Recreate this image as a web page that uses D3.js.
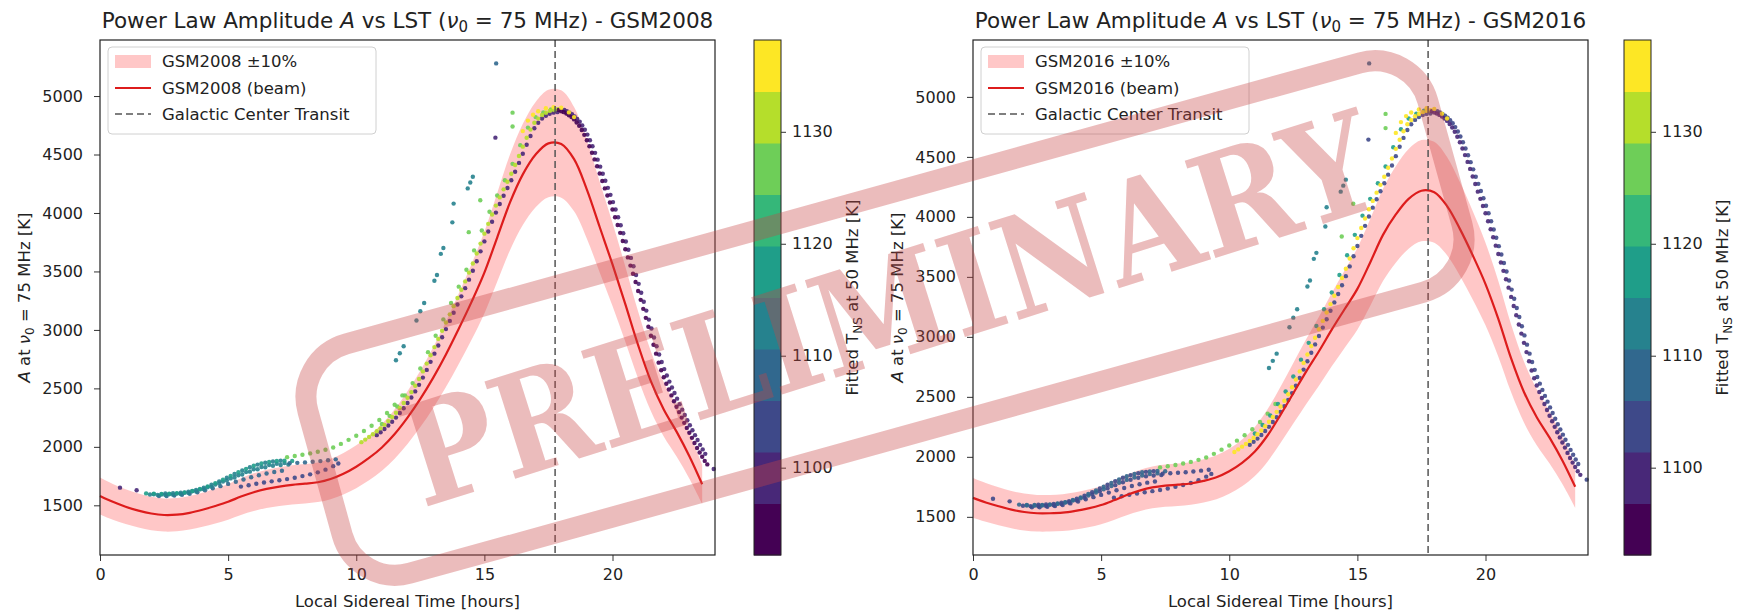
<!DOCTYPE html>
<meta charset="utf-8">
<html>
<head>
<title>Power Law Amplitude vs LST</title>
<style>
  body { margin: 0; background: #fff; }
  text { font-family: "DejaVu Sans", sans-serif; fill: #222; }
  .tick text { font-size: 16px; }
  .tick line { stroke: #333; }
</style>
<script src="https://d3js.org/d3.v7.min.js"></script>
</head>
<body>
<script>

// ---- data ----
var lstModel = [0,0.5,1,1.5,2,2.5,3,3.5,4,4.5,5,5.5,6,6.5,7,7.5,8,8.5,9,9.5,10,10.5,11,11.5,
                12,12.5,13,13.5,14,14.5,15,15.5,16,16.5,17,17.5,18,18.5,19,19.5,20,20.5,21,21.5,22,22.5,23,23.5];
var gsm2008 = [1580,1530,1488,1455,1430,1417,1420,1436,1462,1494,1530,1575,1612,1640,1660,1675,1685,1697,1725,1770,
               1830,1905,1995,2110,2250,2410,2590,2790,3010,3240,3490,3790,4090,4330,4500,4595,4590,4460,4200,3880,
               3560,3220,2870,2560,2320,2130,1920,1680];
var gsm2016 = [1658,1620,1588,1560,1540,1530,1530,1535,1550,1570,1598,1638,1682,1718,1745,1760,1768,1778,1800,1830,
               1880,1950,2045,2180,2350,2530,2710,2880,3060,3230,3400,3620,3850,4020,4150,4218,4205,4090,3900,3680,
               3440,3150,2820,2540,2330,2160,1970,1750];
var gcTransit = 17.76;

var xTicks = [0, 5, 10, 15, 20];
var yTicks = [1500, 2000, 2500, 3000, 3500, 4000, 4500, 5000];
var cbarTicks = [1100, 1110, 1120, 1130];
var tnsRange = [1092.2, 1138.2];
var xRange = [0, 24];

// fitted amplitude points [LST, A]; colour is the fitted T_NS of each group
var lowTop = [[1.8,1602],[2.1,1600],[2.4,1598],[2.7,1600],[3.0,1604],[3.3,1611],[3.6,1622],[3.9,1640],[4.2,1662],
  [4.5,1690],[4.8,1720],[5.1,1752],[5.4,1783],[5.7,1812],[6.0,1838],[6.3,1857],[6.6,1871],[6.9,1879],[7.2,1882],[7.5,1880]];
var lowTop2 = [[2.55,1601],[2.85,1603],[3.15,1608],[3.45,1617],[3.75,1631],[4.05,1651],[4.35,1676],[4.65,1705],
  [4.95,1736],[5.25,1768],[5.55,1798],[5.85,1826],[6.15,1848],[6.45,1864],[6.75,1875],[7.05,1881]];
var lowMid = [[1.95,1592],[2.25,1589],[2.55,1588],[2.85,1591],[3.15,1597],[3.45,1606],[3.75,1619],[4.05,1637],[4.35,1660],
  [4.65,1686],[4.95,1712],[5.25,1738],[5.55,1764],[5.85,1788],[6.15,1809],[6.45,1826],[6.75,1838],[7.05,1845],[7.35,1848]];
var lowMid2 = [[2.1,1595],[2.4,1593],[2.7,1595],[3.0,1600],[3.3,1608],[3.6,1620],[3.9,1636],[4.2,1655],[4.5,1678],
  [4.8,1703],[5.1,1730],[5.4,1757],[5.7,1784],[6.0,1808],[6.3,1828],[6.6,1845],[6.9,1856],[7.2,1862]];
var lowBot = [[2.3,1580],[2.6,1580],[2.9,1584],[3.2,1590],[3.5,1599],[3.8,1612],[4.1,1628],[4.4,1646],[4.7,1664],
  [5.0,1683],[5.3,1702],[5.6,1721],[5.9,1740],[6.2,1757],[6.5,1772],[6.8,1785],[7.1,1795]];
var lowGray = [[5.5,1660],[5.8,1672],[6.1,1684],[6.4,1695],[6.7,1705],[7.0,1714],[7.3,1724],[7.6,1736],[7.9,1750],
  [8.2,1765],[8.5,1782],[8.8,1805],[9.1,1835],[9.3,1858]];
var midDark = [[7.4,1860],[7.7,1863],[8.0,1867],[8.3,1872],[8.6,1878],[8.9,1885],[9.2,1893]];
var greenRise = [[7.3,1912],[7.6,1922],[7.9,1932],[8.2,1944],[8.5,1958],[8.8,1975],[9.1,1995],[9.4,2025],[9.7,2060],
  [10.0,2095],[10.3,2135],[10.6,2180],[10.9,2230],[11.2,2290],[11.5,2360],[11.8,2440]];
var riseA = [[10.2,2040],[10.35,2062],[10.5,2085],[10.65,2108],[10.8,2133],[10.95,2158],[11.1,2188],[11.25,2220],
  [11.4,2255],[11.55,2292],[11.7,2332],[11.85,2375],[12.0,2420],[12.15,2468],[12.3,2522],[12.45,2580],[12.6,2645],
  [12.75,2712],[12.9,2783],[13.05,2853],[13.2,2923],[13.35,2993],[13.5,3063],[13.65,3133],[13.8,3203],[13.95,3273],
  [14.1,3343],[14.25,3415],[14.4,3490],[14.55,3568],[14.7,3653],[14.85,3738],[15.0,3823],[15.15,3907],[15.3,3987],
  [15.45,4063],[15.6,4133],[15.75,4202],[15.9,4267],[16.05,4335],[16.2,4410],[16.35,4487],[16.5,4567],[16.65,4643],
  [16.8,4713],[16.95,4772],[17.1,4807],[17.25,4838],[17.4,4857],[17.55,4873],[17.7,4883],[17.85,4888]];
var riseB = [[10.8,2100],[10.95,2125],[11.1,2152],[11.25,2182],[11.4,2215],[11.55,2250],[11.7,2290],[11.85,2330],
  [12.0,2375],[12.15,2422],[12.3,2474],[12.45,2530],[12.6,2592],[12.75,2658],[12.9,2727],[13.05,2797],[13.2,2867],
  [13.35,2937],[13.5,3007],[13.65,3077],[13.8,3147],[13.95,3217],[14.1,3287],[14.25,3357],[14.4,3430],[14.55,3506],
  [14.7,3587],[14.85,3672],[15.0,3757],[15.15,3842],[15.3,3925],[15.45,4003],[15.6,4077],[15.75,4147],[15.9,4214],
  [16.05,4280],[16.2,4352],[16.35,4428],[16.5,4506],[16.65,4584],[16.8,4658],[16.95,4724],[17.1,4772],[17.25,4808],
  [17.4,4832],[17.55,4848],[17.7,4858],[17.85,4862]];
var riseC = [[11.0,2195],[11.3,2265],[11.6,2345],[11.9,2440],[12.2,2545],[12.5,2670],[12.8,2810],[13.1,2950],
  [13.4,3090],[13.7,3230],[14.0,3370],[14.3,3515],[14.6,3680],[14.9,3850],[15.2,4010],[15.5,4150],[15.8,4280],
  [16.1,4420],[16.4,4580],[16.7,4730],[17.0,4820],[17.3,4860],[17.6,4885]];
var peakTop = [[16.5,4700],[16.7,4790],[16.9,4840],[17.1,4870],[17.4,4895],[17.7,4905],[18.0,4900],[18.3,4860],[18.5,4820]];
var fallA = [[17.9,4880],[18.0,4870],[18.1,4862],[18.2,4850],[18.3,4836],[18.4,4820],[18.5,4800],[18.6,4774],
  [18.7,4745],[18.8,4710],[18.9,4668],[19.0,4622],[19.1,4570],[19.2,4515],[19.3,4458],[19.4,4400],[19.5,4337],
  [19.6,4274],[19.7,4210],[19.8,4150],[19.9,4090],[20.0,4030],[20.1,3963],[20.2,3897],[20.3,3830],[20.4,3760],
  [20.5,3690],[20.6,3620],[20.7,3550],[20.8,3480],[20.9,3410],[21.0,3333],[21.1,3257],[21.2,3180],[21.3,3103],
  [21.4,3027],[21.5,2950],[21.6,2873],[21.7,2797],[21.8,2720],[21.9,2655],[22.0,2595],[22.1,2540],[22.2,2490],
  [22.3,2440],[22.4,2390],[22.5,2343],[22.6,2297],[22.7,2250],[22.8,2205],[22.9,2162],[23.0,2120],[23.1,2077],
  [23.2,2033],[23.3,1990],[23.4,1952],[23.5,1915],[23.6,1880],[23.7,1850]];
var fallB = [[18.12,4880],[18.22,4870],[18.32,4858],[18.42,4844],[18.52,4826],[18.62,4805],[18.72,4780],[18.82,4748],
  [18.92,4712],[19.02,4670],[19.12,4622],[19.22,4570],[19.32,4514],[19.42,4456],[19.52,4396],[19.62,4335],[19.72,4275],
  [19.82,4215],[19.92,4155],[20.02,4093],[20.12,4030],[20.22,3963],[20.32,3895],[20.42,3826],[20.52,3756],[20.62,3686],
  [20.72,3616],[20.82,3545],[20.92,3470],[21.02,3394],[21.12,3318],[21.22,3241],[21.32,3165],[21.42,3088],[21.52,3012],
  [21.62,2935],[21.72,2860],[21.82,2790],[21.92,2725],[22.02,2665],[22.12,2610],[22.22,2558],[22.32,2508],[22.42,2460],
  [22.52,2412],[22.62,2365],[22.72,2318],[22.82,2272],[22.92,2228],[23.02,2185],[23.12,2142],[23.22,2100],[23.32,2058],
  [23.42,2017],[23.52,1978],[23.62,1940]];
var tealStray = [[11.55,2740],[11.7,2800],[11.85,2860],[12.35,3080],[12.5,3160],[12.65,3230],[13.05,3420],[13.15,3470],
  [13.3,3650],[13.4,3700],[13.75,3920],[13.8,4080],[14.35,4210],[14.45,4260],[14.55,4310]];
var greenStray = [[16.1,4858],[16.1,4740],[14.84,4109],[14.39,3836]];
var darkStray = [[0.78,1651],[1.43,1629],[15.43,4644],[23.95,1810]];
var highStray = [[15.46,5279]];

var groups = [
  {pts: lowBot,     tL: 1110, tR: 1102},
  {pts: lowMid,     tL: 1113, tR: 1105},
  {pts: lowMid2,    tL: 1115, tR: 1106},
  {pts: lowTop,     tL: 1117, tR: 1108},
  {pts: lowTop2,    tL: 1112, tR: 1104},
  {pts: lowGray,    tL: 1105, tR: 1103},
  {pts: midDark,    tL: 1107, tR: 1105},
  {pts: greenRise,  tL: 1127, tR: 1127},
  {pts: riseC,      tL: 1126, tR: 1117},
  {pts: riseB,      tL: 1099, tR: 1104},
  {pts: riseA,      tL: 1131, tR: 1136},
  {pts: tealStray,  tL: 1112, tR: 1112},
  {pts: greenStray, tL: 1126, tR: 1126},
  {pts: darkStray,  tL: 1100, tR: 1103},
  {pts: highStray,  tL: 1108, tR: 1108},
  {pts: fallB,      tL: 1099, tR: 1104},
  {pts: fallA,      tL: 1096, tR: 1101},
  {pts: peakTop,    tL: 1137, tR: 1137}
];

// ---- layout ----
var width = 1740, height = 613;
var plotTop = 40, plotBottom = 555;

var panels = [
  {name: "GSM2008", model: gsm2008, left: 100, right: 715, cb: 754, tKey: "tL"},
  {name: "GSM2016", model: gsm2016, left: 973, right: 1588, cb: 1624, tKey: "tR"}
];

var colorScale = d3.scaleQuantize().domain(tnsRange).range(d3.quantize(d3.interpolateViridis, 10));

var svg = d3.select("body").append("svg")
    .attr("width", width)
    .attr("height", height);

// y limits like matplotlib autoscale: data (band + points) with 5% margin
var allA = [];
groups.forEach(function(g) { g.pts.forEach(function(p) { allA.push(p[1]); }); });

var drawPanel = function(p) {
  var lo = d3.min(allA.concat(p.model.map(function(v) { return v * 0.9; })));
  var hi = d3.max(allA.concat(p.model.map(function(v) { return v * 1.1; })));
  var pad = (hi - lo) * 0.05;

  var x = d3.scaleLinear().domain(xRange).range([p.left, p.right]);
  var y = d3.scaleLinear().domain([lo - pad, hi + pad]).range([plotBottom, plotTop]);

  var g = svg.append("g");

  // +-10% band
  var band = d3.area()
      .x(function(d, i) { return x(lstModel[i]); })
      .y0(function(d) { return y(d * 0.9); })
      .y1(function(d) { return y(d * 1.1); })
      .curve(d3.curveCatmullRom);
  g.append("path").datum(p.model)
      .attr("d", band)
      .attr("fill", "#ff0000")
      .attr("fill-opacity", 0.22);

  // fitted points
  groups.forEach(function(grp) {
    g.append("g").selectAll("circle")
      .data(grp.pts)
      .enter().append("circle")
      .attr("cx", function(d) { return x(d[0]); })
      .attr("cy", function(d) { return y(d[1]); })
      .attr("r", 2.2)
      .attr("fill", colorScale(grp[p.tKey]))
      .attr("fill-opacity", 0.9);
  });

  // beam model line
  var line = d3.line()
      .x(function(d, i) { return x(lstModel[i]); })
      .y(function(d) { return y(d); })
      .curve(d3.curveCatmullRom);
  g.append("path").datum(p.model)
      .attr("d", line)
      .attr("fill", "none")
      .attr("stroke", "#dd1c1c")
      .attr("stroke-width", 2.2);

  // galactic centre transit
  g.append("line")
      .attr("x1", x(gcTransit)).attr("x2", x(gcTransit))
      .attr("y1", plotTop).attr("y2", plotBottom)
      .attr("stroke", "#555").attr("stroke-width", 1.5)
      .attr("stroke-dasharray", "7,4");

  // axes
  var ax = g.append("g").attr("transform", "translate(0," + plotBottom + ")")
      .call(d3.axisBottom(x).tickValues(xTicks).tickSize(6).tickPadding(8).tickSizeOuter(0));
  ax.select(".domain").remove();
  var ay = g.append("g").attr("transform", "translate(" + p.left + ",0)")
      .call(d3.axisLeft(y).tickValues(yTicks).tickSize(6).tickPadding(11).tickSizeOuter(0)
             .tickFormat(d3.format("d")));
  ay.select(".domain").remove();

  g.append("rect")
      .attr("x", p.left).attr("y", plotTop)
      .attr("width", p.right - p.left).attr("height", plotBottom - plotTop)
      .attr("fill", "none").attr("stroke", "#222").attr("stroke-width", 1.2);

  var cx = (p.left + p.right) / 2;

  // title
  var t = g.append("text").attr("x", cx).attr("y", 28)
      .attr("text-anchor", "middle").style("font-size", "21.5px");
  t.append("tspan").text("Power Law Amplitude ");
  t.append("tspan").attr("font-style", "italic").text("A");
  t.append("tspan").text(" vs LST (");
  t.append("tspan").attr("font-style", "italic").text("ν");
  t.append("tspan").attr("font-size", "15px").attr("dy", 4).text("0");
  t.append("tspan").attr("dy", -4).text(" = 75 MHz) - " + p.name);

  // x label
  g.append("text").attr("x", cx).attr("y", 607)
      .attr("text-anchor", "middle").style("font-size", "16.5px")
      .text("Local Sidereal Time [hours]");

  // y label
  var yl = g.append("text")
      .attr("transform", "translate(" + (p.left - 70) + "," + ((plotTop + plotBottom) / 2) + ") rotate(-90)")
      .attr("text-anchor", "middle").style("font-size", "16.5px");
  yl.append("tspan").attr("font-style", "italic").text("A");
  yl.append("tspan").text(" at ");
  yl.append("tspan").attr("font-style", "italic").text("ν");
  yl.append("tspan").attr("font-size", "12px").attr("dy", 4).text("0");
  yl.append("tspan").attr("dy", -4).text(" = 75 MHz [K]");

  // legend
  var lg = g.append("g").attr("transform", "translate(" + (p.left + 8) + ",47)");
  lg.append("rect").attr("width", 268).attr("height", 87).attr("rx", 4)
      .attr("fill", "#fff").attr("fill-opacity", 0.8)
      .attr("stroke", "#d0d0d0");
  lg.append("rect").attr("x", 7).attr("y", 8).attr("width", 36).attr("height", 13)
      .attr("fill", "#ff0000").attr("fill-opacity", 0.22);
  lg.append("line").attr("x1", 7).attr("x2", 43).attr("y1", 41).attr("y2", 41)
      .attr("stroke", "#dd1c1c").attr("stroke-width", 2.2);
  lg.append("line").attr("x1", 7).attr("x2", 43).attr("y1", 67).attr("y2", 67)
      .attr("stroke", "#555").attr("stroke-width", 1.5).attr("stroke-dasharray", "7,4");
  var labels = [p.name + " ±10%", p.name + " (beam)", "Galactic Center Transit"];
  lg.selectAll("text.lab").data(labels).enter().append("text")
      .attr("class", "lab")
      .attr("x", 54).attr("y", function(d, i) { return 20 + i * 26.5; })
      .style("font-size", "16.5px")
      .text(function(d) { return d; });

  // colour bar
  var cbScale = d3.scaleLinear().domain(tnsRange).range([plotBottom, plotTop]);
  var edges = [tnsRange[0]].concat(colorScale.thresholds(), [tnsRange[1]]);
  var cg = g.append("g");
  cg.selectAll("rect.bin").data(d3.range(10)).enter().append("rect")
      .attr("class", "bin")
      .attr("x", p.cb).attr("width", 27)
      .attr("y", function(i) { return cbScale(edges[i + 1]); })
      .attr("height", function(i) { return cbScale(edges[i]) - cbScale(edges[i + 1]) + 0.5; })
      .attr("fill", function(i) { return colorScale.range()[i]; });
  cg.append("rect").attr("x", p.cb).attr("y", plotTop).attr("width", 27).attr("height", plotBottom - plotTop)
      .attr("fill", "none").attr("stroke", "#222").attr("stroke-width", 1);
  var ac = cg.append("g").attr("transform", "translate(" + (p.cb + 27) + ",0)")
      .call(d3.axisRight(cbScale).tickValues(cbarTicks).tickSize(5).tickPadding(6).tickSizeOuter(0)
             .tickFormat(d3.format("d")));
  ac.select(".domain").remove();
  var cl = cg.append("text")
      .attr("transform", "translate(" + (p.cb + 104) + "," + ((plotTop + plotBottom) / 2) + ") rotate(-90)")
      .attr("text-anchor", "middle").style("font-size", "16.5px");
  cl.append("tspan").text("Fitted T");
  cl.append("tspan").attr("font-size", "12px").attr("dy", 4).text("NS");
  cl.append("tspan").attr("dy", -4).text(" at 50 MHz [K]");
};

panels.forEach(drawPanel);

// PRELIMINARY stamp over everything
var stamp = svg.append("g").style("pointer-events", "none");
stamp.append("rect")
    .attr("transform", "translate(885,318) rotate(-15.5)")
    .attr("x", -581).attr("y", -119).attr("width", 1162).attr("height", 238).attr("rx", 55)
    .attr("fill", "none").attr("stroke", "#c84646").attr("stroke-opacity", 0.36).attr("stroke-width", 21);
stamp.append("text")
    .attr("transform", "translate(889,308) rotate(-17.5)")
    .attr("x", 0).attr("y", 0).attr("dy", "0.36em")
    .attr("text-anchor", "middle")
    .attr("textLength", 1010).attr("lengthAdjust", "spacingAndGlyphs")
    .style("font-family", "'DejaVu Serif', serif").style("font-weight", "bold").style("font-size", "140px")
    .style("fill", "#c84646").style("fill-opacity", 0.36)
    .text("PRELIMINARY");

</script>
</body>
</html>
